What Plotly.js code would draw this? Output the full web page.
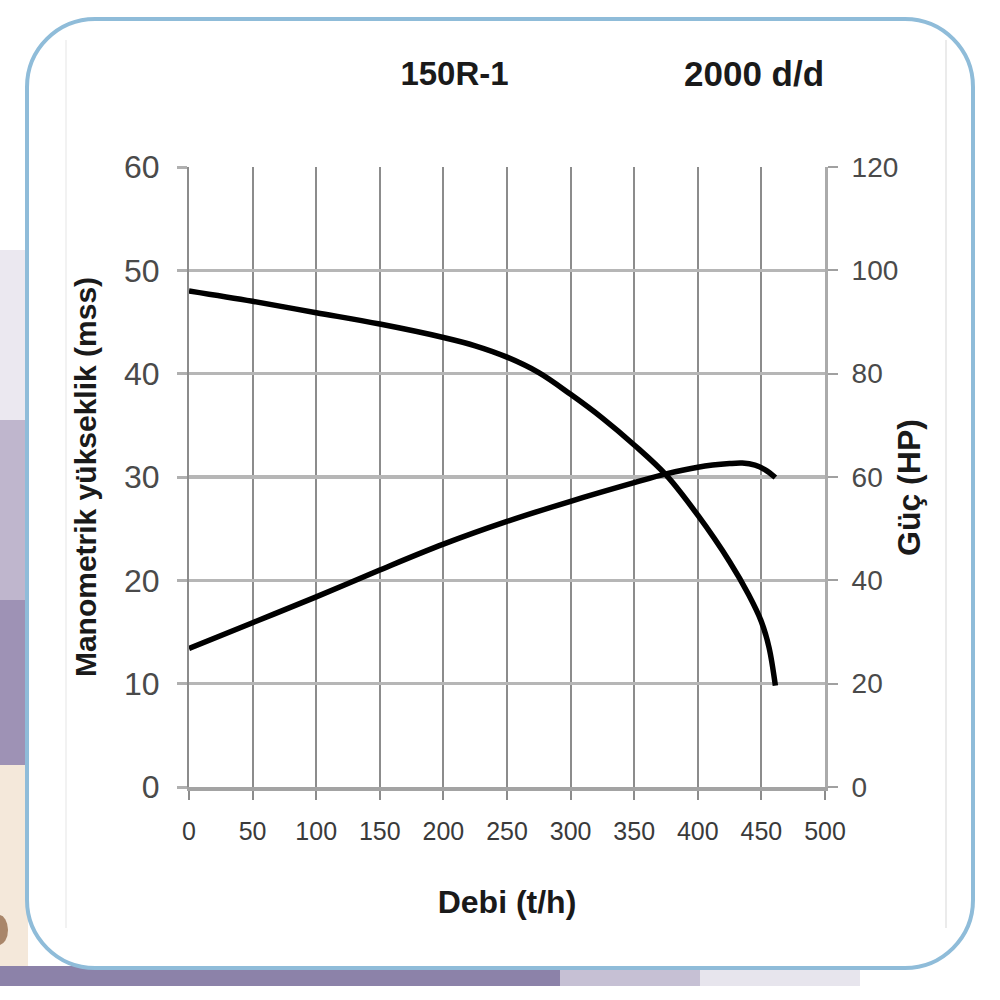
<!DOCTYPE html>
<html>
<head>
<meta charset="utf-8">
<script src="https://cdn.plot.ly/plotly-3.0.1.min.js"></script>
<style>
html,body{margin:0;padding:0;background:#ffffff;}
#chart{width:1000px;height:1000px;}
</style>
</head>
<body>
<div id="chart"></div>
<script>
// ---- data ----
const headFlow  = [0, 50, 100, 150, 200, 225, 250, 275, 300, 325, 350, 375, 400, 425, 440, 450, 456, 461]; // Debi (t/h)
const headMss   = [48.0, 47.0, 45.9, 44.8, 43.5, 42.7, 41.6, 40.1, 38.0, 35.7, 33.1, 30.2, 26.3, 21.8, 18.6, 16.0, 13.5, 9.8]; // Manometrik yükseklik (mss)
const powerFlow = [0, 50, 100, 150, 200, 250, 300, 350, 375, 400, 425, 435, 445, 453, 461]; // Debi (t/h)
const powerHP   = [26.8, 31.8, 36.8, 42.0, 47.0, 51.4, 55.3, 58.9, 60.6, 61.9, 62.6, 62.7, 62.3, 61.4, 59.9]; // Güç (HP)
const xTicks    = [0, 50, 100, 150, 200, 250, 300, 350, 400, 450, 500];
const yTicks    = [0, 10, 20, 30, 40, 50, 60];
const y2Ticks   = [0, 20, 40, 60, 80, 100, 120];
const modelName = "150R-1";
const speedText = "2000 d/d";

// ---- layout geometry (pixels) ----
const M = {l:189, r:175, t:167, b:213};
const W = 1000 - M.l - M.r, H = 1000 - M.t - M.b;
const px = x => (x - M.l) / W;           // pixel x -> paper x
const py = y => (1000 - M.b - y) / H;    // pixel y -> paper y
const P = (x, y) => px(x).toFixed(4) + "," + py(y).toFixed(4);

function roundRect(x0, y0, x1, y1, r) {
  const k = 0.5523 * r;
  return "M" + P(x0 + r, y0) + " L" + P(x1 - r, y0) +
    " C" + P(x1 - r + k, y0) + " " + P(x1, y0 + r - k) + " " + P(x1, y0 + r) +
    " L" + P(x1, y1 - r) +
    " C" + P(x1, y1 - r + k) + " " + P(x1 - r + k, y1) + " " + P(x1 - r, y1) +
    " L" + P(x0 + r, y1) +
    " C" + P(x0 + r - k, y1) + " " + P(x0, y1 - r + k) + " " + P(x0, y1 - r) +
    " L" + P(x0, y0 + r) +
    " C" + P(x0, y0 + r - k) + " " + P(x0 + r - k, y0) + " " + P(x0 + r, y0) + " Z";
}
function rectPx(x0, y0, x1, y1, color) {
  return {type:"rect", xref:"paper", yref:"paper", layer:"below",
    x0:px(x0), x1:px(x1), y0:py(y1), y1:py(y0),
    fillcolor:color, line:{width:0}};
}

const FONT = "Liberation Sans, Arial, sans-serif";

const traces = [
  {x: headFlow, y: headMss, name: "Manometrik yükseklik", type: "scatter", mode: "lines",
   line: {color: "#000000", width: 5.5, shape: "spline", smoothing: 1}, yaxis: "y", cliponaxis: false},
  {x: powerFlow, y: powerHP, name: "Güç", type: "scatter", mode: "lines",
   line: {color: "#000000", width: 5.5, shape: "spline", smoothing: 1}, yaxis: "y2", cliponaxis: false}
];

const shapes = [
  // outside decoration (background photo remnants)
  rectPx(0, 250, 28, 420, "#ebe8f0"),
  rectPx(0, 420, 28, 600, "#bfb6cd"),
  rectPx(0, 600, 28, 765, "#9e92b5"),
  rectPx(0, 765, 28, 975, "#f4e8da"),
  rectPx(0, 966, 560, 986, "#8c82a9"),
  rectPx(560, 966, 700, 986, "#c6c0d4"),
  rectPx(700, 966, 860, 986, "#e7e5ed"),
  {type:"circle", xref:"paper", yref:"paper", layer:"below",
   x0:px(-10), x1:px(8), y0:py(945), y1:py(915), fillcolor:"#a9866a", line:{width:0}},
  // rounded frame
  {type:"path", xref:"paper", yref:"paper", layer:"below",
   path: roundRect(27, 19, 973, 968, 68), fillcolor:"#ffffff",
   line:{color:"#8fbcd9", width:4}},
  // faint inner lines
  {type:"line", xref:"paper", yref:"paper", layer:"below",
   x0:px(946), x1:px(946), y0:py(40), y1:py(928), line:{color:"#ebebeb", width:2}},
  {type:"line", xref:"paper", yref:"paper", layer:"below",
   x0:px(66), x1:px(66), y0:py(40), y1:py(928), line:{color:"#f2f2f2", width:2}}
];

const layout = {
  width: 1000, height: 1000,
  margin: M,
  paper_bgcolor: "#ffffff",
  plot_bgcolor: "rgba(0,0,0,0)",
  showlegend: false,
  font: {family: FONT, color: "#333333"},
  title: {text: "<b>" + modelName + "</b>", xref: "paper", x: px(454.5), xanchor: "center",
          yref: "container", y: 1 - 73/1000, yanchor: "middle",
          font: {family: FONT, size: 33, color: "#1a1a1a"}},
  xaxis: {
    range: [0, 500], tickvals: xTicks, ticktext: xTicks.map(String),
    showgrid: true, gridcolor: "#8c8c8c", gridwidth: 2,
    zeroline: false, showline: true, linecolor: "#a3a3a3", linewidth: 4,
    ticks: "outside", ticklen: 9, tickwidth: 2, tickcolor: "#8c8c8c",
    ticklabelstandoff: 10,
    tickfont: {family: FONT, size: 25, color: "#3a3a3a"},
    title: {text: "<b>Debi (t/h)</b>", standoff: 48, font: {family: FONT, size: 32, color: "#1a1a1a"}},
    fixedrange: true
  },
  yaxis: {
    range: [0, 60], tickvals: yTicks, ticktext: yTicks.map(String),
    showgrid: true, gridcolor: "#b6b6b6", gridwidth: 3.5,
    zeroline: false, showline: true, linecolor: "#8c8c8c", linewidth: 2,
    ticks: "outside", ticklen: 10, tickwidth: 3, tickcolor: "#b0b0b0",
    ticklabelstandoff: 11,
    tickfont: {family: FONT, size: 32, color: "#4a4a4a"},
    title: {text: "<b>Manometrik yükseklik (mss)</b>", standoff: 19, font: {family: FONT, size: 30, color: "#1a1a1a"}},
    fixedrange: true
  },
  yaxis2: {
    range: [0, 120], tickvals: y2Ticks, ticktext: y2Ticks.map(String),
    overlaying: "y", side: "right", showgrid: false, zeroline: false,
    showline: true, linecolor: "#ababab", linewidth: 3,
    ticks: "outside", ticklen: 10, tickwidth: 2, tickcolor: "#a0a0a0",
    ticklabelstandoff: 8,
    tickfont: {family: FONT, size: 28, color: "#4a4a4a"},
    fixedrange: true
  },
  annotations: [
    {text: "<b>" + speedText + "</b>", xref: "paper", yref: "paper",
     x: px(753.5), y: py(73), xanchor: "center", yanchor: "middle", showarrow: false,
     font: {family: FONT, size: 35, color: "#1a1a1a"}},
    {text: "<b>Güç (HP)</b>", xref: "paper", yref: "paper",
     x: px(909), y: py(488), xanchor: "center", yanchor: "middle", textangle: -90, showarrow: false,
     font: {family: FONT, size: 32, color: "#1a1a1a"}}
  ],
  shapes: shapes
};

Plotly.newPlot("chart", traces, layout, {displayModeBar: false, staticPlot: true});
</script>
</body>
</html>
